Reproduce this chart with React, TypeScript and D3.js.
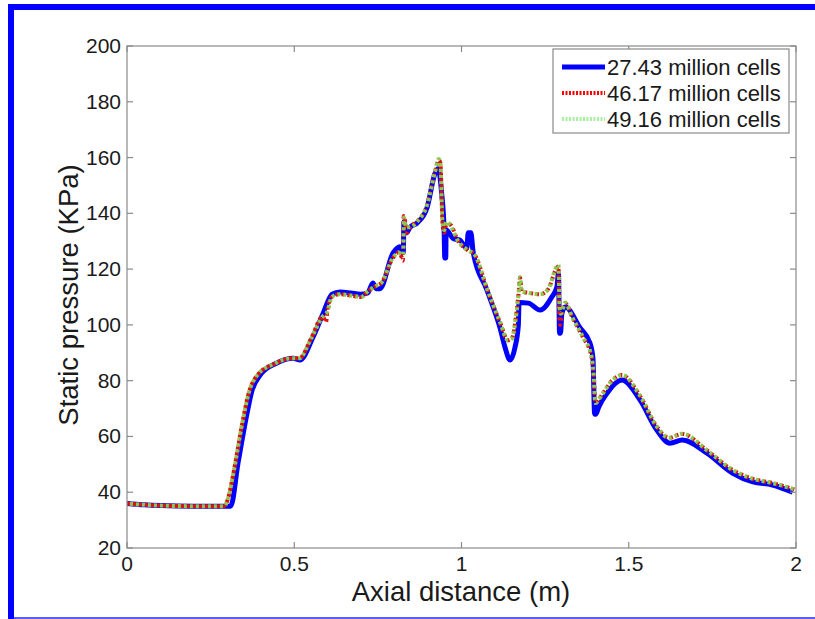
import React from "react";
import * as d3 from "d3";

const seriesNames = ["27.43 million cells", "46.17 million cells", "49.16 million cells"];

const xTicks = [0, 0.5, 1, 1.5, 2];
const xTickLabels = ["0", "0.5", "1", "1.5", "2"];
const yTicks = [20, 40, 60, 80, 100, 120, 140, 160, 180, 200];

// 27.43 million cells
const xA = [0, 0.05, 0.1, 0.2, 0.3, 0.31, 0.332, 0.359, 0.374, 0.398, 0.448, 0.497, 0.517, 0.556, 0.586, 0.613, 0.637, 0.67, 0.697, 0.72, 0.735, 0.745, 0.756, 0.795, 0.816, 0.822, 0.826, 0.828, 0.835, 0.846, 0.867, 0.897, 0.921, 0.93, 0.94, 0.948, 0.95, 0.953, 0.954, 0.975, 0.995, 1.016, 1.02, 1.028, 1.035, 1.076, 1.115, 1.13, 1.145, 1.16, 1.17, 1.172, 1.2, 1.235, 1.27, 1.285, 1.29, 1.293, 1.296, 1.3, 1.31, 1.354, 1.384, 1.393, 1.398, 1.402, 1.41, 1.435, 1.48, 1.534, 1.584, 1.623, 1.66, 1.734, 1.81, 1.871, 1.93, 1.99];
const pA = [36, 35.5, 35.2, 35, 35, 35, 50.5, 68.4, 76.6, 82, 86.3, 88, 87.4, 95.6, 104, 111, 111.8, 111.4, 111, 111.5, 115, 113, 113, 125.7, 128, 126, 126, 137, 133, 135, 136.5, 142, 154.4, 156, 148, 134, 124, 124, 134, 131, 130.4, 127.5, 133, 133, 126, 112.5, 99, 92, 87.4, 92, 100, 108, 107.8, 105.3, 110, 113.5, 118.5, 97, 97, 104, 106.4, 99, 93.5, 88, 68, 68, 70.5, 75.5, 80.2, 73, 62.3, 57.6, 58.7, 54, 46.9, 43.7, 42.6, 40];

// 46.17 million cells
const xB = [0, 0.05, 0.1, 0.2, 0.29, 0.3, 0.32, 0.345, 0.365, 0.39, 0.44, 0.49, 0.515, 0.55, 0.585, 0.595, 0.6, 0.612, 0.635, 0.67, 0.7, 0.72, 0.745, 0.76, 0.795, 0.812, 0.822, 0.825, 0.827, 0.832, 0.838, 0.846, 0.867, 0.897, 0.921, 0.932, 0.937, 0.943, 0.948, 0.955, 0.965, 0.99, 1.016, 1.04, 1.076, 1.115, 1.139, 1.15, 1.165, 1.172, 1.175, 1.18, 1.2, 1.235, 1.26, 1.285, 1.29, 1.292, 1.295, 1.3, 1.31, 1.33, 1.363, 1.388, 1.395, 1.4, 1.42, 1.45, 1.48, 1.534, 1.584, 1.62, 1.66, 1.734, 1.81, 1.871, 1.93, 1.995];
const pB = [36, 35.5, 35.2, 35, 35, 37, 48, 65, 76, 82, 86, 88, 88, 95, 103, 101, 106, 110, 111, 110.5, 110, 112, 114, 115, 124, 126, 124, 123, 139, 137, 133, 135, 137, 143, 155, 159, 158, 137, 133, 136, 136, 130, 127, 125, 113, 101, 94.5, 95, 105, 113, 117, 112, 111.5, 111, 113, 120.5, 121, 104, 100, 104, 107.8, 103, 95.6, 89, 82, 72, 75, 80, 82, 74.5, 63.5, 59.5, 60.9, 55, 48, 44.8, 43.3, 41];

// 49.16 million cells
const xC = [0, 0.05, 0.1, 0.2, 0.29, 0.3, 0.32, 0.345, 0.365, 0.39, 0.44, 0.49, 0.515, 0.55, 0.585, 0.6, 0.612, 0.635, 0.67, 0.7, 0.72, 0.745, 0.76, 0.795, 0.812, 0.822, 0.826, 0.828, 0.834, 0.846, 0.867, 0.897, 0.921, 0.932, 0.937, 0.943, 0.948, 0.955, 0.965, 0.99, 1.016, 1.04, 1.076, 1.115, 1.139, 1.15, 1.165, 1.172, 1.175, 1.18, 1.2, 1.235, 1.26, 1.285, 1.29, 1.293, 1.297, 1.31, 1.33, 1.363, 1.388, 1.395, 1.4, 1.42, 1.45, 1.48, 1.534, 1.584, 1.62, 1.66, 1.734, 1.81, 1.871, 1.93, 1.995];
const pC = [36, 35.5, 35.2, 35, 35, 37, 48, 65, 76, 82, 86, 88, 88, 95, 103, 105, 110, 111, 110.5, 110, 112, 114, 115, 124, 126, 125, 126, 138.5, 135, 135, 137, 143, 155, 159.5, 158, 137, 134, 137, 136, 130, 127, 125, 113, 101, 94.5, 95, 105, 113, 117, 112, 111.5, 111, 113, 121, 121.5, 106, 104, 108, 103, 95.6, 89, 82, 72, 75, 80, 82, 74.5, 63.5, 59.5, 61, 55, 48, 44.8, 43.3, 41];

const W = 815;
const H = 619;
const left = 127;
const right = 796;
const top = 46;
const bottom = 548;
const font = "'Liberation Sans', Arial, Helvetica, sans-serif";

export default function App() {
  const x = d3.scaleLinear().domain([0, 2]).range([left, right]);
  const y = d3.scaleLinear().domain([20, 200]).range([bottom, top]);
  const line = d3
    .line<[number, number]>()
    .x((d) => x(d[0]))
    .y((d) => y(d[1]))
    .curve(d3.curveMonotoneX);
  const zip = (xs: number[], ps: number[]) => xs.map((v, i) => [v, ps[i]] as [number, number]);

  const series = [
    { name: seriesNames[0], d: line(zip(xA, pA)) || "", color: "#0000ff", width: 5, dash: undefined as string | undefined, offset: 0 },
    { name: seriesNames[1], d: line(zip(xB, pB)) || "", color: "#e01010", width: 4, dash: "3,3", offset: 0 },
    { name: seriesNames[2], d: line(zip(xC, pC)) || "", color: "#8cc850", width: 4, dash: "3,3", offset: 3 },
  ];
  const legendColors = ["#0000ff", "#ff0000", "#a6f0a0"];

  const tickLen = 6;
  const axisColor = "#8a8a8a";

  return (
    <svg
      width={W}
      height={H}
      style={{ position: "absolute", left: 0, top: 0, background: "#fff" }}
      fontFamily={font}
    >
      <rect x={0} y={0} width={W} height={H} fill="#fff" />
      {/* frame */}
      <rect x={8} y={4} width={W - 8} height={6} fill="#0000ff" />
      <rect x={8} y={4} width={6} height={H - 4} fill="#0000ff" />
      <rect x={14} y={617} width={W - 14} height={2} fill="#5a5aff" />

      <defs>
        <clipPath id="clip">
          <rect x={left} y={top} width={right - left} height={bottom - top} />
        </clipPath>
      </defs>
      {/* plot lines */}
      <g clipPath="url(#clip)">
        {series.map((s, i) => (
          <path
            key={i}
            d={s.d}
            fill="none"
            stroke={s.color}
            strokeWidth={s.width}
            strokeDasharray={s.dash}
            strokeDashoffset={s.offset}
            strokeLinejoin="round"
          />
        ))}
      </g>

      {/* axes box */}
      <rect x={left} y={top} width={right - left} height={bottom - top} fill="none" stroke={axisColor} strokeWidth={1.2} />
      {xTicks.map((t, i) => (
        <g key={"xt" + i}>
          <line x1={x(t)} x2={x(t)} y1={bottom} y2={bottom - tickLen} stroke={axisColor} strokeWidth={1.2} />
          <line x1={x(t)} x2={x(t)} y1={top} y2={top + tickLen} stroke={axisColor} strokeWidth={1.2} />
          <text x={x(t)} y={bottom + 23} textAnchor="middle" fontSize={21} fill="#1a1a1a">
            {xTickLabels[i]}
          </text>
        </g>
      ))}
      {yTicks.map((t, i) => (
        <g key={"yt" + i}>
          <line x1={left} x2={left + tickLen} y1={y(t)} y2={y(t)} stroke={axisColor} strokeWidth={1.2} />
          <line x1={right} x2={right - tickLen} y1={y(t)} y2={y(t)} stroke={axisColor} strokeWidth={1.2} />
          <text x={left - 6} y={y(t) + 7} textAnchor="end" fontSize={21} fill="#1a1a1a">
            {t}
          </text>
        </g>
      ))}

      {/* axis labels */}
      <text x={(left + right) / 2 - 0.5} y={601} textAnchor="middle" fontSize={27.5} fill="#1a1a1a">
        Axial distance (m)
      </text>
      <text
        transform={`translate(78, ${(top + bottom) / 2 - 2}) rotate(-90)`}
        textAnchor="middle"
        fontSize={27.5}
        fill="#1a1a1a"
      >
        Static pressure (KPa)
      </text>

      {/* legend */}
      <rect x={553} y={49} width={236} height={84} fill="#fff" stroke={axisColor} strokeWidth={1.2} />
      {series.map((s, i) => (
        <g key={"lg" + i}>
          <line
            x1={562}
            x2={605}
            y1={67 + i * 26}
            y2={67 + i * 26}
            stroke={legendColors[i]}
            strokeWidth={s.width}
            strokeDasharray={s.dash ? "2,1.5" : undefined}
          />
          <text x={607} y={67 + i * 26 + 8} fontSize={22} fill="#1a1a1a">
            {s.name}
          </text>
        </g>
      ))}
    </svg>
  );
}
